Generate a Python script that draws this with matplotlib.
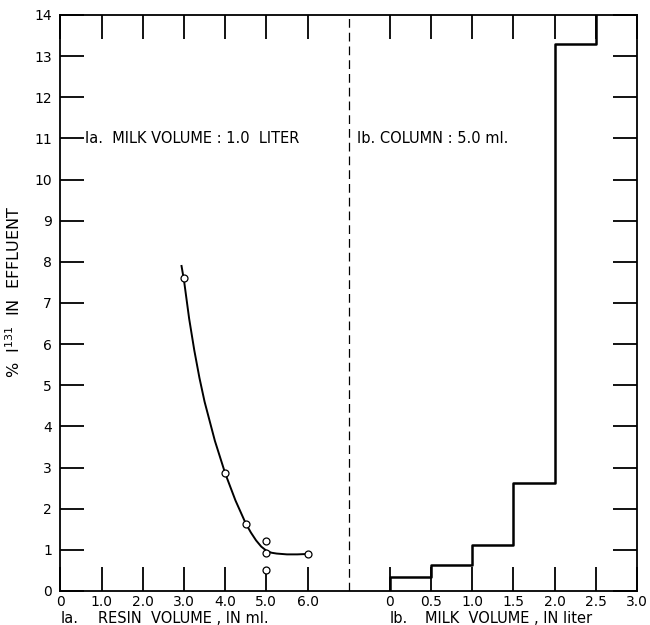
import numpy as np
import matplotlib.pyplot as plt

# Ia: resin volume (ml) vs % I-131 in effluent (milk volume 1.0 liter)
resin_pts = [3.0, 4.0, 4.5, 5.0, 5.0, 5.0, 6.0]
pct_pts = [7.6, 2.87, 1.62, 1.22, 0.92, 0.51, 0.91]

# hand-drawn fit curve
resin_curve = [2.94, 3.0, 3.125, 3.25, 3.375, 3.5, 3.75, 4.0, 4.25, 4.5,
               4.625, 4.75, 4.875, 5.0, 5.125, 5.25, 5.5, 5.75, 6.0]
pct_curve = [7.9, 7.55, 6.62, 5.85, 5.18, 4.6, 3.65, 2.86, 2.2, 1.64,
             1.42, 1.23, 1.08, 0.98, 0.93, 0.91, 0.89, 0.89, 0.9]

# Ib: milk volume (liter) vs % I-131 in effluent (column 5.0 ml)
milk_edges = [0.0, 0.5, 1.0, 1.5, 2.0, 2.5, 3.0]
pct_steps = [0.35, 0.62, 1.12, 2.63, 13.3, 14.5]

resin_ticks = [0, 1, 2, 3, 4, 5, 6]
resin_labels = ['0', '1.0', '2.0', '3.0', '4.0', '5.0', '6.0']
milk_ticks = [0, 0.5, 1.0, 1.5, 2.0, 2.5, 3.0]
milk_labels = ['0', '0.5', '1.0', '1.5', '2.0', '2.5', '3.0']

MILK0 = 8.0   # where milk volume 0 sits on the shared x axis
MILK_SCALE = 2.0

def milk_x(v):
    return MILK0 + MILK_SCALE * np.asarray(v)

fig = plt.figure(figsize=(6.5, 6.25), dpi=100)
ax = fig.add_axes([0.093, 0.0544, 0.887, 0.9216])

# left panel
ax.plot(resin_curve, pct_curve, color='black', lw=1.4)
ax.plot(resin_pts, pct_pts, 'o', ms=5, mfc='white', mec='black', mew=0.9)

# divider
ax.axvline(7.0, color='black', lw=0.9, ls=(0, (7, 4)))

# right panel step curve
xs = milk_x(milk_edges)
sx = [xs[0]]
sy = [0.0]
for i, v in enumerate(pct_steps):
    sx += [xs[i], xs[i + 1]]
    sy += [v, v]
ax.plot(sx[:-1], sy[:-1], color='black', lw=1.8, clip_on=True)

ax.set_xlim(0, 14)
ax.set_ylim(0, 14)

xt = list(resin_ticks) + list(milk_x(milk_ticks))
xl = resin_labels + milk_labels
ax.set_xticks(xt)
ax.set_xticklabels(xl, fontsize=10)
ax.set_yticks(range(0, 15))
ax.set_yticklabels([str(i) for i in range(0, 15)], fontsize=10)
ax.tick_params(direction='in', length=17, width=1.3, top=True, right=True,
               pad=6)
ax.tick_params(axis='x', pad=3)
for s in ax.spines.values():
    s.set_linewidth(1.3)

ax.set_ylabel('%  I$^{131}$  IN  EFFLUENT', fontsize=11.5)
ax.yaxis.set_label_coords(-0.065, 0.52)

ax.text(0.6, 11.0, 'Ia.  MILK VOLUME : 1.0  LITER', fontsize=10.5, va='center')
ax.text(7.2, 11.0, 'Ib. COLUMN : 5.0 ml.', fontsize=10.5, va='center')

ax.text(0.0, -0.49, 'Ia.', fontsize=10.5, va='top', clip_on=False)
ax.text(0.9, -0.49, 'RESIN  VOLUME , IN ml.', fontsize=10.5, va='top', clip_on=False)
ax.text(8.0, -0.49, 'Ib.', fontsize=10.5, va='top', clip_on=False)
ax.text(8.85, -0.49, 'MILK  VOLUME , IN liter', fontsize=10.5, va='top', clip_on=False)

fig.savefig('out.png', dpi=100)
